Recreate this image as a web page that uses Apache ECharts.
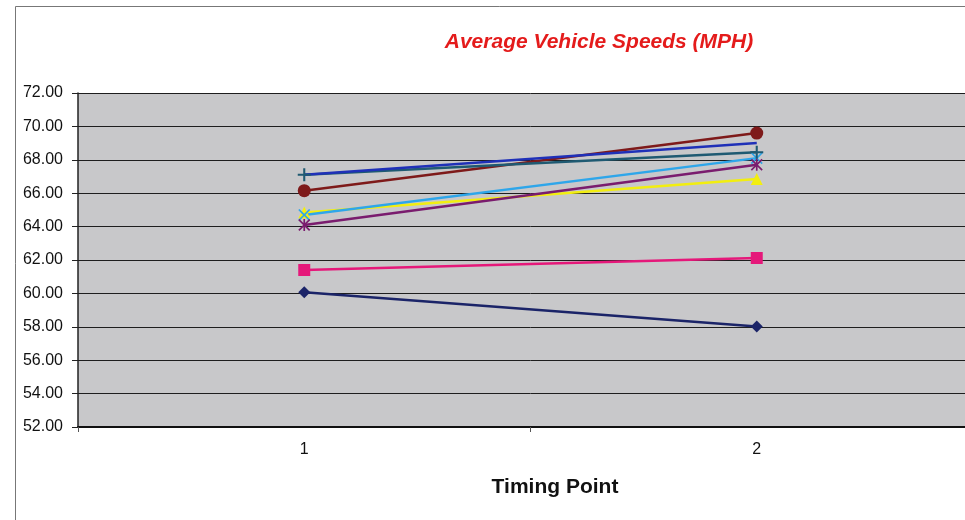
<!DOCTYPE html>
<html>
<head>
<meta charset="utf-8">
<script src="https://cdn.jsdelivr.net/npm/echarts@6/dist/echarts.min.js"></script>
<style>
  html, body { margin: 0; padding: 0; background: #fff; overflow: hidden; width: 965px; height: 520px; }
  #chart { width: 983px; height: 520px; }
</style>
</head>
<body>
<div id="chart"></div>
<script>
// timing points
var categories = ['1', '2'];

// average speeds per series (mph)
var navyDiamond = [60.07, 58.02];
var pinkSquare = [61.40, 62.12];
var yellowTriangle = [64.85, 66.85];
var cyanCross = [64.70, 68.10];
var purpleStar = [64.10, 67.70];
var maroonCircle = [66.15, 69.60];
var tealPlus = [67.10, 68.45];
var bluePlain = [67.10, 69.00];

var symX = 'path://M0,1L1,0L5,4L9,0L10,1L6,5L10,9L9,10L5,6L1,10L0,9L4,5Z';
var symPlus = 'path://M4.2,0H5.8V4.2H10V5.8H5.8V10H4.2V5.8H0V4.2H4.2Z';
var symStar = 'path://M0,1L1,0L4.3,3.3V0H5.7V3.3L9,0L10,1L6,5L10,9L9,10L5.7,6.7V10H4.3V6.7L1,10L0,9L4,5Z';

function mk(name, data, color, symbol, size) {
  return {
    name: name,
    type: 'line',
    data: data,
    symbol: symbol,
    symbolSize: size,
    showSymbol: symbol !== 'none',
    lineStyle: { color: color, width: 2.5 },
    itemStyle: { color: color },
    animation: false,
    z: 3
  };
}

var chart = echarts.init(document.getElementById('chart'));
chart.setOption({
  backgroundColor: '#fff',
  animation: false,
  title: [{
    text: 'Average Vehicle Speeds (MPH)',
    left: 594, top: 27, textAlign: 'center',
    textStyle: { color: '#e41b1b', fontSize: 21, fontWeight: 'bold', fontStyle: 'italic', fontFamily: 'Liberation Sans, Arial, sans-serif' }
  }, {
    text: 'Timing Point',
    left: 550, top: 472, textAlign: 'center',
    textStyle: { color: '#111', fontSize: 21, fontWeight: 'bold', fontFamily: 'Liberation Sans, Arial, sans-serif' }
  }],
  graphic: [{
    type: 'rect',
    shape: { x: 15.5, y: 6.5, width: 1000, height: 600 },
    style: { fill: 'none', stroke: '#777', lineWidth: 1 },
    silent: true
  }],
  grid: { left: 78, top: 93, right: 0, height: 334, show: true, backgroundColor: '#c8c8ca', borderWidth: 0 },
  xAxis: {
    type: 'category',
    data: categories,
    boundaryGap: true,
    axisLine: { lineStyle: { color: '#111', width: 2 } },
    axisTick: { show: true, length: 5, lineStyle: { color: '#555' } },
    axisLabel: { color: '#111', fontSize: 16, margin: 15, fontFamily: 'Liberation Sans, Arial, sans-serif' },
    splitLine: { show: false }
  },
  yAxis: {
    type: 'value',
    min: 52, max: 72, interval: 2,
    axisLine: { show: true, lineStyle: { color: '#222', width: 1.5 } },
    axisTick: { show: true, length: 6, lineStyle: { color: '#222' } },
    axisLabel: {
      color: '#111', fontSize: 16, margin: 15, fontFamily: 'Liberation Sans, Arial, sans-serif',
      formatter: function (v) { return v.toFixed(2); }
    },
    splitLine: { show: true, lineStyle: { color: '#1e1e1e', width: 1 } }
  },
  series: [
    mk('S1', navyDiamond, '#1b2468', 'diamond', 12),
    mk('S2', pinkSquare, '#e5187a', 'rect', 12),
    mk('S3', yellowTriangle, '#f2ee10', 'triangle', 12),
    mk('S4', cyanCross, '#2ea6ea', symX, 12),
    mk('S5', purpleStar, '#7a1c6e', symStar, 12),
    mk('S6', maroonCircle, '#7e1a1a', 'circle', 13),
    mk('S7', tealPlus, '#1f5a72', symPlus, 13),
    mk('S8', bluePlain, '#1f30b8', 'none', 0)
  ]
});
</script>
</body>
</html>
